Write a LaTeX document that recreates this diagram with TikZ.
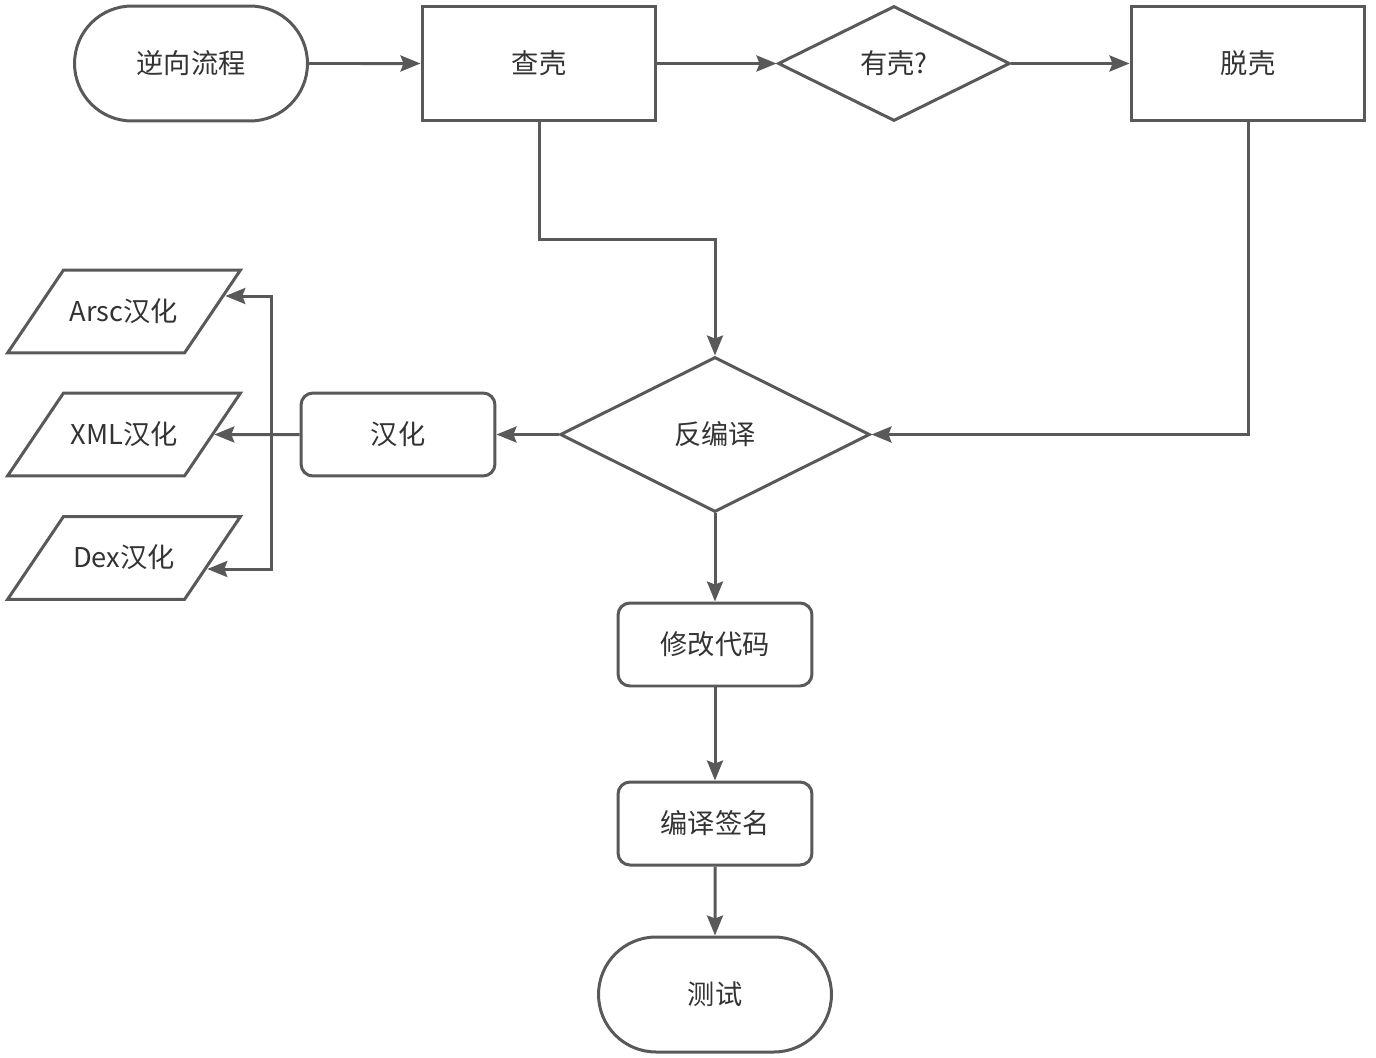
\documentclass[tikz,border=0pt]{standalone}
\usepackage{fontspec}
\usepackage{xcolor}
\usepackage{tikz}
\usetikzlibrary{shapes.geometric,shapes.misc,arrows.meta,calc}
\newfontfamily\cjk{Noto Sans CJK SC}
\definecolor{linegray}{HTML}{595959}
\definecolor{textgray}{HTML}{333333}
\tikzset{
  base/.style={draw=linegray, line width=0.06cm, fill=white, text=textgray,
    font=\cjk\fontsize{15.5}{18}\selectfont, inner sep=0pt},
  terminal/.style={base, rounded rectangle, minimum width=4.66cm, minimum height=2.3cm},
  process/.style={base, rectangle, minimum width=4.68cm, minimum height=2.3cm},
  decision/.style={base, diamond, minimum width=4.64cm, minimum height=2.3cm},
  bigdecision/.style={base, diamond, minimum width=6.2cm, minimum height=3.1cm},
  subproc/.style={base, rectangle, rounded corners=0.24cm, minimum width=3.88cm, minimum height=1.66cm},
  iobox/.style={base, trapezium, trapezium left angle=56, trapezium right angle=124,
    trapezium stretches body=true, text height=0.45cm, text depth=0.07cm,
    inner ysep=0.57cm, minimum width=4.66cm, minimum height=1.66cm},
  flow/.style={draw=linegray, line width=0.06cm,
    -{Stealth[length=0.4cm, width=0.32cm, inset=0.06cm]}}
}
\begin{document}
\begin{tikzpicture}[x=0.02cm, y=-0.02cm]
            \useasboundingbox (0,0) rectangle (1376,1058);
            % Reverse flow start
            \node[terminal] (start) at (191,63.5) {逆向流程};
            
            % Check shell
            \node[process] (check) at (539,63.5) {查壳};
            
            % Has shell?
            \node[decision] (hasshell) at (894,63.5) {有壳?};
            
            % Unpack
            \node[process] (unpack) at (1248,63.5) {脱壳};
            
            % Decompile
            \node[bigdecision] (decomp) at (715,434.5) {反编译};
            
            % Localize
            \node[subproc] (localize) at (398,434.5) {汉化};
            
            % Localize targets
            \node[iobox] (arsc) at (124,311.5) {Arsc汉化};
            \node[iobox] (xml) at (124,434.5) {XML汉化};
            \node[iobox] (dex) at (124,558) {Dex汉化};
            
            % Modify code
            \node[subproc] (modify) at (715,644.5) {修改代码};
            
            % Build and sign
            \node[subproc] (sign) at (715,823.5) {编译签名};
            
            % Test
            \node[terminal] (test) at (715,994.5) {测试};
            
            % Arrows
            \coordinate (split) at (271,434.5);
            \draw[flow] (start) -- (check);
            \draw[flow] (check) -- (hasshell);
            \draw[flow] (hasshell) -- (unpack);
            \draw[flow] (check.south) |- ($(check.south)!0.5!(decomp.north)$) -| (decomp.north);
            \draw[flow] (unpack.south) |- (decomp.east);
            \draw[flow] (decomp.west) -- (localize.east);
            \draw[flow] (localize.west) -- (xml.east);
            \draw[flow] (split) |- ($(arsc.east)+(11,-15.5)$);
            \draw[flow] (split) |- ($(dex.east)+(-7,11)$);
            \draw[flow] (decomp.south) -- (modify.north);
            \draw[flow] (modify) -- (sign);
            \draw[flow] (sign) -- (test);
        \end{tikzpicture}
\end{document}
